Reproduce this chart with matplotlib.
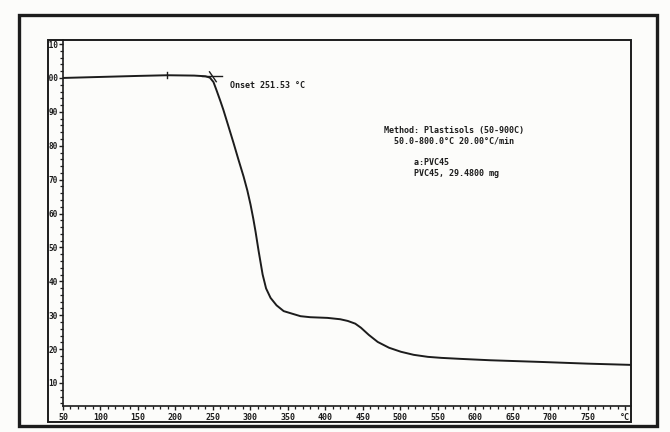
import matplotlib
matplotlib.use("Agg")
import matplotlib.pyplot as plt
from matplotlib.patches import Rectangle
from matplotlib.ticker import MultipleLocator

# TGA weight-loss curve of PVC45 plastisol
temperature = [50, 100, 150, 189, 225, 240, 246, 250.8, 255, 260, 264, 270, 277.6, 284,
               291, 296, 300.3, 304, 307, 311, 316.4, 321, 327, 335, 344.5, 357.9,
               367, 380, 403, 420, 430, 440, 447.6, 458, 470, 485, 501, 518, 537,
               555, 581, 620, 688, 750, 813]
weight = [100.0, 100.3, 100.6, 100.8, 100.7, 100.5, 100.1, 98.8, 96.3, 93.2, 90.6, 86.3,
          80.8, 76.0, 70.9, 66.8, 62.6, 58.4, 54.6, 49.0, 42.0, 37.9, 35.1, 32.9,
          31.2, 30.3, 29.7, 29.4, 29.2, 28.8, 28.3, 27.5, 26.3, 24.2, 22.1, 20.4,
          19.2, 18.3, 17.7, 17.4, 17.1, 16.7, 16.2, 15.7, 15.3]

x_ticks = [50, 100, 150, 200, 250, 300, 350, 400, 450, 500, 550, 600, 650, 700, 750, 800]
x_tick_labels = ["50", "100", "150", "200", "250", "300", "350", "400", "450", "500",
                 "550", "600", "650", "700", "750", "°C"]
y_ticks = [10, 20, 30, 40, 50, 60, 70, 80, 90, 100, 110]
y_tick_labels = ["10", "20", "30", "40", "50", "60", "70", "80", "90", "100", "110"]

onset_temp = 251.53
onset_weight = 100.5
marker_temp = 189

method_lines = ["Method: Plastisols (50-900C)",
                "  50.0-800.0°C 20.00°C/min",
                "",
                "      a:PVC45",
                "      PVC45, 29.4800 mg"]

INK = "#1c1c1c"
W, H = 670, 432


def fx(px):
    return px / W


def fy(py):
    return 1 - py / H


fig = plt.figure(figsize=(6.7, 4.32), dpi=100)
fig.patch.set_facecolor("#fcfcfa")

# outer page frame and inner plot box
outer = Rectangle((fx(19), fy(426)), fx(657) - fx(19), fy(15) - fy(426),
                  transform=fig.transFigure, fill=False, lw=2.4, ec=INK)
inner = Rectangle((fx(48), fy(422)), fx(631) - fx(48), fy(40) - fy(422),
                  transform=fig.transFigure, fill=False, lw=1.4, ec=INK)
fig.patches.extend([outer, inner])

ax = fig.add_axes([fx(63), fy(406), fx(631) - fx(63), fy(40) - fy(406)])
ax.set_facecolor("none")
ax.set_xlim(50, 808)
ax.set_ylim(3.2, 111.2)
for s in ("top", "right"):
    ax.spines[s].set_visible(False)
for s in ("left", "bottom"):
    ax.spines[s].set_linewidth(1.2)
    ax.spines[s].set_color(INK)

ax.set_xticks(x_ticks)
ax.set_xticklabels(x_tick_labels)
ax.set_yticks(y_ticks)
ax.set_yticklabels(y_tick_labels)
ax.xaxis.set_minor_locator(MultipleLocator(10))
ax.yaxis.set_minor_locator(MultipleLocator(2))
ax.tick_params(axis="both", which="major", direction="out", length=3.2, width=1.0,
               color=INK, labelsize=6, labelcolor=INK)
ax.tick_params(axis="both", which="minor", direction="out", length=2.0, width=0.9,
               color=INK)
ax.tick_params(axis="x", which="major", pad=2)
ax.tick_params(axis="y", which="major", pad=0.5, labelsize=5.6)
for lab in ax.get_xticklabels() + ax.get_yticklabels():
    lab.set_fontfamily("DejaVu Sans Mono")
    lab.set_fontweight("bold")
for lab in ax.get_yticklabels():
    lab.set_clip_on(True)
    lab.set_clip_path(inner)

ax.plot(temperature, weight, color=INK, lw=1.4, solid_capstyle="round",
        solid_joinstyle="round")

# onset construction: baseline extension and tangent cross
ax.plot([onset_temp - 16, onset_temp + 10], [onset_weight, onset_weight], color=INK, lw=1.0)
ax.plot([onset_temp - 6, onset_temp + 3], [onset_weight + 1.3, onset_weight - 1.6],
        color=INK, lw=1.0)
ax.plot([marker_temp, marker_temp], [onset_weight - 0.4, onset_weight + 1.2], color=INK, lw=1.0)

mono = dict(fontfamily="DejaVu Sans Mono", fontweight="bold", fontsize=6, color=INK)
ax.text(273, 97.8, f"Onset {onset_temp:.2f} °C", va="center", ha="left", **mono)
fig.text(fx(384), fy(126), "\n".join(method_lines), va="top", ha="left",
         linespacing=1.25, **mono)

fig.savefig("out.png", dpi=100, facecolor=fig.get_facecolor())
